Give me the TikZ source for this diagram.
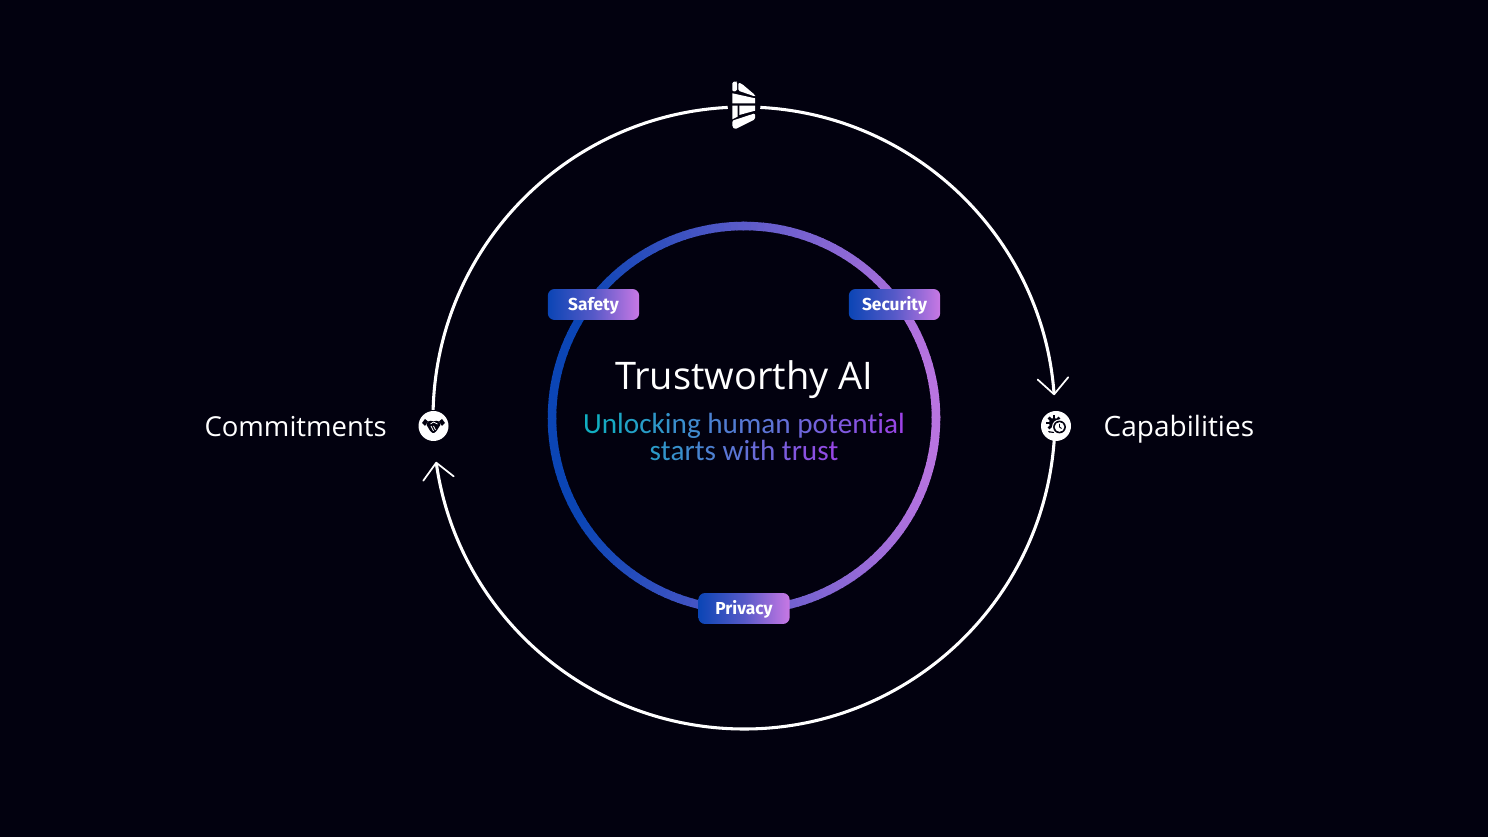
\documentclass[tikz,border=0pt]{standalone}
\usepackage{fontspec}
\usepackage{tikz}
\usetikzlibrary{arrows.meta,calc}
\setmainfont{Open Sans}
\newfontfamily\subfont{Carlito}
\newfontfamily\pillfont{Fira Sans}
\definecolor{bgdark}{HTML}{02010F}
\definecolor{ringblue}{HTML}{0B45B5}
\definecolor{ringpink}{HTML}{C878E4}
\definecolor{subteal}{HTML}{0EB0C0}
\definecolor{subviolet}{HTML}{A040E8}
\tikzset{
	flow/.style={white,line width=2.3pt},
	pill/.style={rounded corners=5pt,left color=ringblue,right color=ringpink,middle color=ringblue!60!ringpink,
		minimum width=68.5pt,minimum height=23.2pt,inner sep=0pt,text height=8.5pt,text depth=0pt,text=white,font=\pillfont\bfseries\fontsize{13}{15}\selectfont},
	icon/.style={circle,fill=white,minimum size=22.5pt,inner sep=0pt},
	sidelabel/.style={text=white,font=\fontsize{20.6}{24}\selectfont},
	barb/.style={-{Straight Barb[length=12pt,width=23pt,line width=1.3pt,round]}}
}
\begin{document}
\begin{tikzpicture}[x=0.75pt,y=0.75pt]
	\fill[bgdark] (0,0) rectangle (1488,837);
	\coordinate (ctr) at (744,419);
	
	% Inner ring, left to right gradient
	\foreach \a in {0,2,...,358}{
		\pgfmathtruncatemacro{\pct}{min(100,58-50*cos(\a+1))}
		\draw[ringblue!\pct!ringpink,line width=6.4pt] ($(ctr)+(\a:192)$) arc[start angle=\a,end angle=\a+2.4,radius=192];
	}
	
	% Pills on the ring
	\node[pill] (safety) at (593.5,532.5) {Safety};
	\node[pill] (security) at (894.5,532.5) {Security};
	\node[pill] (privacy) at (744,228.5) {Privacy};
	
	% Centre text
	\node[text=white,font=\fontsize{28.5}{32}\selectfont] (title) at (744,457.5) {Trustworthy AI};
	\node[font=\subfont\fontsize{21.9}{24}\selectfont,inner sep=0pt] (subone) at (744,411) {%
		\foreach \ch [count=\k,evaluate=\k as \p using int(102-4*\k)] in {U,n,l,o,c,k,i,n,g,~,h,u,m,a,n,~,p,o,t,e,n,t,i,a,l}{\textcolor{subteal!\p!subviolet}{\ch}}};
	\node[font=\subfont\fontsize{21.9}{24}\selectfont,inner sep=0pt] (subtwo) at (744,387) {%
		\foreach \ch [count=\k,evaluate=\k as \p using int(85-4.6*\k)] in {s,t,a,r,t,s,~,w,i,t,h,~,t,r,u,s,t}{\textcolor{subteal!\p!subviolet}{\ch}}};
	
	% Icons and their labels
	\node[icon] (commit) at (433.5,411) {};
	\node[icon] (capab) at (1056,411) {};
	\node[sidelabel,anchor=base east] (commitlabel) at (391.5,400) {Commitments};
	\node[sidelabel,font=\fontsize{21}{24}\selectfont,anchor=base west] (capablabel) at (1099,400) {Capabilities};
	\coordinate (logo) at (744,732);
	
	% Outer circle, three arcs
	\coordinate (logoE) at ($(ctr)+(87:311)$);
	\coordinate (logoW) at ($(ctr)+(93:311)$);
	\coordinate (capabS) at ($(ctr)+(-4:311)$);
	\coordinate (commitN) at ($(ctr)+(178.5:311)$);
	\draw[flow,barb] (logoE) arc[start angle=87,end angle=4.2,radius=311];
	\draw[flow,barb] (capabS) arc[start angle=-4,end angle=-171.9,radius=311];
	\draw[flow] (commitN) arc[start angle=178.5,end angle=93,radius=311];
	
	% Logo
	\begin{scope}[shift={(logo)},white]
		\fill[rounded corners=1pt] (-11.7,23) -- (-8,23.5) -- (-7,23) -- (-7,14) -- (-11.7,13.5) -- cycle;
		\fill[rounded corners=1pt] (-5.7,22.5) -- (-2,21) -- (11,10) -- (11,8.5) -- (-5.7,14.3) -- cycle;
		\fill (-11.7,11.7) -- (11,6.7) -- (11,1.7) -- (-11.7,1.7) -- cycle;
		\fill (-11.7,-0.7) -- (-6.5,-0.7) -- (-6.5,-11.7) -- (-11.7,-14.3) -- cycle;
		\fill (-4.7,-0.7) -- (11,-0.7) -- (11,-5.7) -- (-4.7,-10) -- cycle;
		\fill[rounded corners=1pt] (-11.7,-15.7) -- (11,-8.3) -- (11,-14.3) -- (-9,-24.3) -- (-11.7,-21.7) -- cycle;
	\end{scope}
	
	% Handshake
	\begin{scope}[shift={(commit)},bgdark]
		\fill (-11.5,3) -- (-8.5,7) -- (-5.5,4.5) -- (-8.5,0) -- cycle;
		\fill (11.5,3) -- (8.5,7) -- (5.5,4.5) -- (8.5,0) -- cycle;
		\fill[rounded corners=0.8pt] (-7.5,2) -- (-4,5.5) -- (0,4.5) -- (4,5.5) -- (7.5,2) -- (3,-5) -- (0,-7.5) -- (-3,-5.5) -- cycle;
		\draw[white,line width=0.6pt] (-3,2) -- (0,4) -- (4,2) (-2.5,0) -- (0,-5) (0,0) -- (2,-4);
	\end{scope}
	
	% Gear and clock
	\begin{scope}[shift={(capab)},bgdark]
		\foreach \t in {0,45,...,315}{
			\fill ($(-2,3)+(\t:4.5)$) ++(\t+90:1.4) -- ++(\t:3.2) -- ++(\t-90:2.8) -- ++(\t+180:3.2) -- cycle;
		}
		\fill (-2,3) circle (5.2);
		\fill (-8,-5) -- (-2,-6) -- (-2,-7) -- (-7,-6.5) -- cycle;
		\fill[white] (3.5,-1) circle (7.5);
		\fill (3.5,-1) circle (6.4);
		\fill[white] (3.5,-1) circle (4.8);
		\draw[line width=0.7pt] (3.5,2.2) -- (3.5,-1) -- (5.5,-2.5);
	\end{scope}
\end{tikzpicture}
\end{document}
